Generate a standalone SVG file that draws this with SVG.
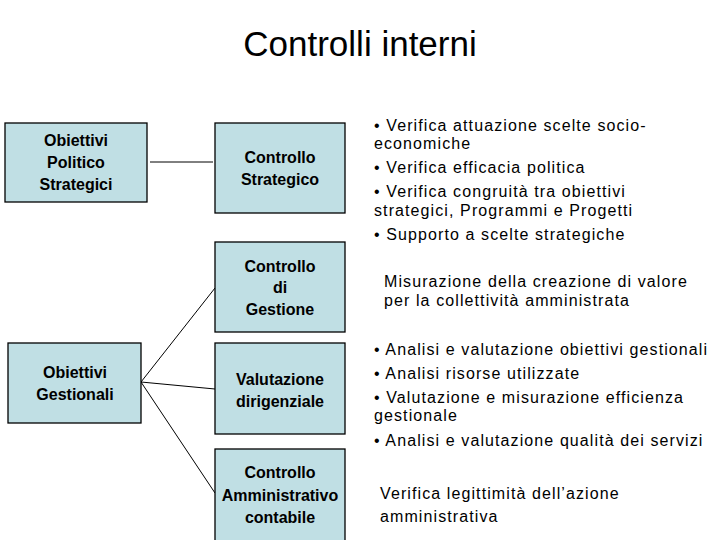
<svg xmlns="http://www.w3.org/2000/svg" width="720" height="540" viewBox="0 0 720 540">
<style>
.box{fill:#c0dfe4;stroke:#000;stroke-width:1.3}
.bt{font-family:"Liberation Sans",Arial,sans-serif;font-weight:bold;font-size:16px;text-anchor:middle;fill:#000}
.rt{font-family:"Liberation Sans",Arial,sans-serif;font-size:16px;letter-spacing:1.1px;fill:#000}
.title{font-family:"Liberation Sans",Arial,sans-serif;font-size:35px;text-anchor:middle;fill:#000}
.conn line{stroke:#000;stroke-width:1}
</style>
<rect width="720" height="540" fill="#fff"/>
<text class="title" x="360" y="56">Controlli interni</text>
<g id="connectors" class="conn">
<line x1="150" y1="162" x2="213" y2="162"/>
<line x1="141" y1="382" x2="215" y2="288"/>
<line x1="141" y1="382" x2="215" y2="389"/>
<line x1="141" y1="382" x2="215" y2="493"/>
</g>
<g id="obiettivi-politico">
<rect class="box" x="5" y="123" width="142" height="79"/>
<text class="bt" x="76" y="146">Obiettivi</text>
<text class="bt" x="76" y="168">Politico</text>
<text class="bt" x="76" y="190">Strategici</text>
</g>
<g id="controllo-strategico">
<rect class="box" x="215" y="123" width="130" height="90"/>
<text class="bt" x="280" y="163">Controllo</text>
<text class="bt" x="280" y="185">Strategico</text>
</g>
<g id="controllo-gestione">
<rect class="box" x="215" y="242" width="130" height="90"/>
<text class="bt" x="280" y="272">Controllo</text>
<text class="bt" x="280" y="293">di</text>
<text class="bt" x="280" y="315">Gestione</text>
</g>
<g id="obiettivi-gestionali">
<rect class="box" x="8" y="343" width="133" height="80"/>
<text class="bt" x="75" y="378">Obiettivi</text>
<text class="bt" x="75" y="400">Gestionali</text>
</g>
<g id="valutazione-dirigenziale">
<rect class="box" x="215" y="343" width="130" height="91"/>
<text class="bt" x="280" y="385">Valutazione</text>
<text class="bt" x="280" y="407">dirigenziale</text>
</g>
<g id="controllo-amministrativo">
<rect class="box" x="215" y="449" width="130" height="95"/>
<text class="bt" x="280" y="478">Controllo</text>
<text class="bt" x="280" y="501">Amministrativo</text>
<text class="bt" x="280" y="523">contabile</text>
</g>
<g id="testi-strategico">
<text class="rt" x="374" y="131">• Verifica attuazione scelte socio-</text>
<text class="rt" x="374" y="149">economiche</text>
<text class="rt" x="374" y="173">• Verifica efficacia politica</text>
<text class="rt" x="374" y="197">• Verifica congruità tra obiettivi</text>
<text class="rt" x="374" y="216">strategici, Programmi e Progetti</text>
<text class="rt" x="374" y="240">• Supporto a scelte strategiche</text>
</g>
<g id="testi-gestione">
<text class="rt" x="384" y="287">Misurazione della creazione di valore</text>
<text class="rt" x="384" y="306">per la collettività amministrata</text>
</g>
<g id="testi-valutazione">
<text class="rt" x="374" y="355">• Analisi e valutazione obiettivi gestionali</text>
<text class="rt" x="374" y="379">• Analisi risorse utilizzate</text>
<text class="rt" x="374" y="403">• Valutazione e misurazione efficienza</text>
<text class="rt" x="374" y="421">gestionale</text>
<text class="rt" x="374" y="446">• Analisi e valutazione qualità dei servizi</text>
</g>
<g id="testi-amministrativo">
<text class="rt" x="380" y="499">Verifica legittimità dell’azione</text>
<text class="rt" x="380" y="522">amministrativa</text>
</g>
</svg>
